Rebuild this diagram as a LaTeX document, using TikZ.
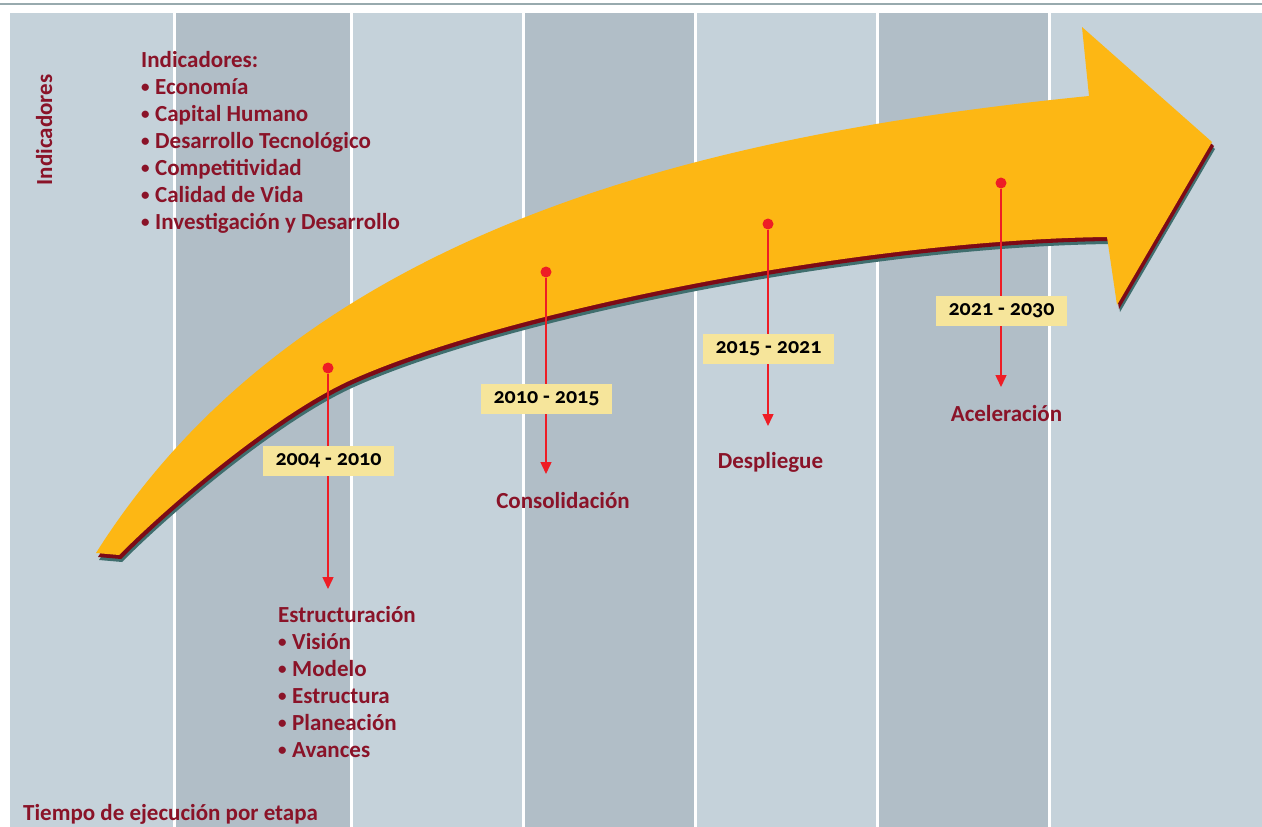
\documentclass[tikz,border=0pt]{standalone}
\usepackage{fontspec}
\setmainfont{Carlito}[Numbers=OldStyle]
\usepackage{tikz}
\usetikzlibrary{positioning,arrows.meta}

\definecolor{bgLight}{HTML}{C5D2DA}
\definecolor{bgDark}{HTML}{B1BEC7}
\definecolor{arrowYellow}{HTML}{FDB714}
\definecolor{shadowRed}{HTML}{7D0A16}
\definecolor{shadowTeal}{HTML}{3F6E6E}
\definecolor{textRed}{HTML}{8A1328}
\definecolor{markRed}{HTML}{EE1D25}
\definecolor{yearBox}{HTML}{F6E59B}
\definecolor{topLine}{HTML}{98AAAE}

% small bullet in front of a list line
\newcommand{\bul}{\makebox[14pt][l]{\raisebox{1.5pt}{\fontsize{17}{17}\selectfont•}}}
% outline of the big curved arrow
\newcommand{\bigarrow}{(96,553) .. controls (300,230) and (700,135) .. (1089,96)
  -- (1082,27) -- (1212,142) -- (1117,305) -- (1107,237)
  .. controls (857,240) and (501,312.5) .. (351,380)
  .. controls (281,411.5) and (179,495) .. (119,555) -- cycle}

\begin{document}
\begin{tikzpicture}
  [
      x=1pt, y=-1pt,
      txt/.style={text=textRed, font=\fontsize{23}{27}\selectfont\bfseries, inner sep=0pt},
      my dot/.style={circle, fill=markRed, minimum size=11pt, inner sep=0pt},
      year box/.style={fill=yearBox, minimum width=131pt, minimum height=30pt, inner sep=0pt, font=\fontsize{22}{22}\selectfont\bfseries},
      marker/.style={draw=markRed, line width=1.5pt, -{Triangle[width=11pt,length=12pt]}}
    ]
    \useasboundingbox (0,0) rectangle (1262,827);
    \fill[white] (0,0) rectangle (1262,827);
    \draw[topLine, line width=2pt] (0,4) -- (1262,4);
    % columns
    \foreach \xa/\xb/\c in {10/174.5/bgLight, 174.5/351.5/bgDark, 351.5/523.5/bgLight, 523.5/695.5/bgDark, 695.5/877/bgLight, 877/1049.5/bgDark, 1049.5/1262/bgLight}
      \fill[\c] (\xa,13) rectangle (\xb,827);
    \foreach \x in {174.5, 351.5, 523.5, 695.5, 877, 1049.5}
      \draw[white, line width=3pt] (\x,13) -- (\x,827);
    % arrow with its shadow
    \fill[shadowTeal, shift={(3,7)}] \bigarrow;
    \fill[shadowRed, shift={(2,4)}] \bigarrow;
    \fill[arrowYellow] \bigarrow;
    % stages
    \foreach \n/\x/\ya/\yb in {1/328/368/589, 2/546/272/474, 3/768/224/426, 4/1001/183/387} {
      \node[my dot] (d\n) at (\x,\ya) {};
      \coordinate (e\n) at (\x,\yb);
    }
    \foreach \n in {1,...,4}
      \draw[marker] (d\n) -- (e\n);
    \node[year box] (y1) at (328.5,461) {2004 - 2010};
    \node[year box] (y2) at (546.5,399) {2010 - 2015};
    \node[year box] (y3) at (768.5,349) {2015 - 2021};
    \node[year box] (y4) at (1001.5,311) {2021 - 2030};
    \node[txt, anchor=north west, align=left] (s1) at (278,606) {Estructuración\\\bul Visión\\\bul Modelo\\\bul Estructura\\\bul Planeación\\\bul Avances};
    \node[txt, anchor=base] (s2) at (563,508) {Consolidación};
    \node[txt, anchor=base] (s3) at (770.5,468) {Despliegue};
    \node[txt, anchor=base] (s4) at (1006.5,421) {Aceleración};
    % labels
    \node[txt, anchor=north west, align=left] (ind) at (141,51) {Indicadores:\\\bul Economía\\\bul Capital Humano\\\bul Desarrollo Tecnológico\\\bul Competitividad\\\bul Calidad de Vida\\\bul Investigación y Desarrollo};
    \node[txt, rotate=90, anchor=base] (axis) at (52,130) {Indicadores};
    \node[txt, anchor=base west] (time) at (23,820) {Tiempo de ejecución por etapa};
  \end{tikzpicture}
\end{document}
